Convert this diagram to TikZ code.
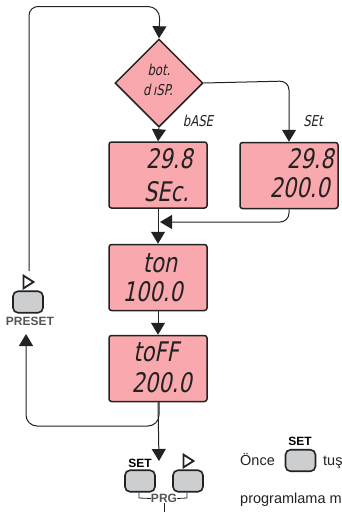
\documentclass[tikz,border=0pt]{standalone}
\usepackage{fontspec}
\setmainfont{Liberation Sans}
\newfontfamily\seg[FakeSlant=0.2,FakeStretch=0.78]{DejaVu Sans}
\usetikzlibrary{arrows.meta,shapes.geometric}
\definecolor{lcdpink}{HTML}{F9A9AE}
\definecolor{keygray}{HTML}{CDCED0}
\definecolor{ink}{HTML}{222222}
\definecolor{lab}{HTML}{555555}
\tikzset{
 lcd/.style={draw=ink,line width=1.5pt,fill=lcdpink,rounded corners=2.5pt,minimum width=98pt,minimum height=66pt,inner sep=0pt},
 keybtn/.style={draw=ink,line width=1.6pt,fill=keygray,rounded corners=5pt,minimum width=30pt,minimum height=21.5pt,inner sep=0pt},
 dec/.style={draw=ink,line width=1.5pt,fill=lcdpink,diamond,aspect=1,minimum width=88pt,minimum height=88pt,inner sep=0pt},
 wire/.style={draw=ink,line width=1pt,rounded corners=9pt},
 flow/.style={wire,-{Triangle[length=12pt,width=14pt]}},
 segbig/.style={inner sep=0pt,text=ink,font=\seg\fontsize{27}{27}\selectfont},
 segsmall/.style={inner sep=0pt,text=ink,font=\seg\fontsize{15}{15}\selectfont},
 keylab/.style={inner sep=0pt,font=\bfseries\fontsize{12}{12}\selectfont},
 tri/.style={draw=ink,line width=1.8pt,fill=white,isosceles triangle,isosceles triangle apex angle=65,minimum size=10pt,inner sep=0pt},
 body/.style={inner sep=0pt,anchor=base west,font=\fontsize{14.5}{15}\selectfont,text=ink},
}
\begin{document}
\begin{tikzpicture}[x=1pt,y=-1pt]
\useasboundingbox (0,0) rectangle (342,512);
\node[dec] (d) at (159,83) {};
\node[segsmall] (t1) at (159,70) {bot.};
\node[segsmall] (t2) at (158,90) {d\,ıSP.};
\node[segsmall] (lb) at (198,121) {bASE};
\node[segsmall] (ls) at (313,121) {SEt};
\node[lcd] (b1) at (158,175) {};
\node[lcd] (b2) at (289,175.5) {};
\node[lcd] (b3) at (158,277.5) {};
\node[lcd] (b4) at (158,368.5) {};
\node[segbig,anchor=east] (a1) at (193,159) {29.8};
\node[segbig,anchor=east] (a2) at (189,192) {SEc.};
\node[segbig,anchor=east] (c1) at (334,159) {29.8};
\node[segbig,anchor=east] (c2) at (330,188) {200.0};
\node[segbig] (e1) at (160,263) {ton};
\node[segbig,anchor=east] (e2) at (183,292) {100.0};
\node[segbig] (f1) at (156,352) {toFF};
\node[segbig,anchor=east] (f2) at (192,383) {200.0};
% keys
\node[keybtn] (kp) at (28,302) {};
\node[tri] (tp) at (27,282) {};
\node[keylab,text=lab] (lp) at (30,321) {PRESET};
\node[keybtn] (ks) at (140,481) {};
\node[keybtn] (kr) at (188,481) {};
\node[keylab] (ls2) at (140,463) {SET};
\node[tri] (tr) at (187,461) {};
\node[keylab,text=lab] (prg) at (164,498.5) {PRG};
\node[keybtn] (ko) at (300.5,460.5) {};
\node[keylab] (lo) at (300,441) {SET};
\node[body] (once) at (240,465) {Önce};
\node[body] (tus) at (323,465) {tuş};
\node[body] (prog) at (240,503) {programlama m};
% connectors
\coordinate (pu) at (29,271);
\coordinate (rt) at (26,334);
\coordinate (bot) at (164,512);
\coordinate (j) at (160,222);
\path[flow] (pu) -- (29,6.5) [rounded corners=12pt] -- (160,6.5) -- (d.north);
\path[flow] (d.south) -- (b1.north);
\path[flow] (d.east) -- (289,81) -- (b2.north);
\path[flow] (b1.south) -- (b3.north);
\path[flow] (b2.south) -- (289,222) -- (j);
\path[flow] (b3.south) -- (b4.south |- b4.north);
\path[flow] (b4.south) -- (159,461);
\path[wire,-{Triangle[length=12pt,width=14pt]},rounded corners=11pt] (159,402) -- (159,426) -- (26,426) -- (rt);
\draw[ink,line width=0.8pt] (ks.south -| 139,492) -- (139,498) -- (prg.west);
\draw[ink,line width=0.8pt] (prg.east) -- (187,498) -- (kr.south -| 187,492);
\draw[ink,line width=0.9pt] (prg.south -| bot) -- (bot);
\end{tikzpicture}
\end{document}
